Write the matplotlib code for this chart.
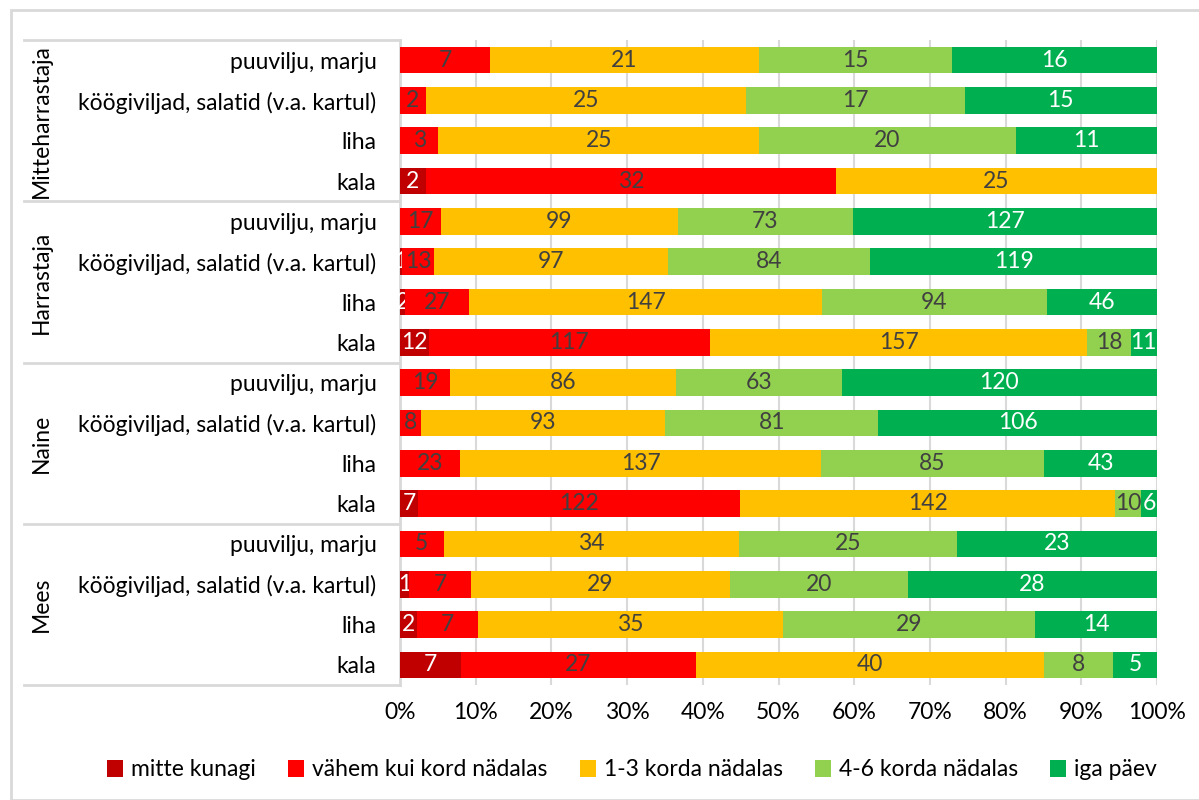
import numpy as np
import matplotlib.pyplot as plt
from matplotlib.lines import Line2D
from matplotlib.patches import Rectangle
import matplotlib.transforms as mtransforms

plt.rcParams['font.family'] = ['Lato', 'DejaVu Sans']

groups = ['Mitteharrastaja', 'Harrastaja', 'Naine', 'Mees']
items = ['puuvilju, marju', 'köögiviljad, salatid (v.a. kartul)', 'liha', 'kala']
series = ['mitte kunagi', 'vähem kui kord nädalas', '1-3 korda nädalas',
          '4-6 korda nädalas', 'iga päev']
colors = ['#C00000', '#FF0000', '#FFC000', '#92D050', '#00B050']
label_colors = ['white', '#404040', '#404040', '#404040', 'white']

# counts per row (group x item), columns follow `series`
mitte_kunagi = [0, 0, 0, 2,   0, 1, 2, 12,   0, 0, 0, 7,   0, 1, 2, 7]
vahem = [7, 2, 3, 32,   17, 13, 27, 117,   19, 8, 23, 122,   5, 7, 7, 27]
korda_1_3 = [21, 25, 25, 25,   99, 97, 147, 157,   86, 93, 137, 142,   34, 29, 35, 40]
korda_4_6 = [15, 17, 20, 0,   73, 84, 94, 18,   63, 81, 85, 10,   25, 20, 29, 8]
iga_paev = [16, 15, 11, 0,   127, 119, 46, 11,   120, 106, 43, 6,   23, 28, 14, 5]

counts = np.array([mitte_kunagi, vahem, korda_1_3, korda_4_6, iga_paev], dtype=float)
shares = counts / counts.sum(axis=0)

fs = 16.5

fig = plt.figure(figsize=(11.99, 8), dpi=100)
ax = fig.add_axes([400 / 1199, 1 - 685 / 800, 757 / 1199, 645 / 800])

y = np.arange(counts.shape[1])
left = np.zeros(len(y))
for i, name in enumerate(series):
    bars = ax.barh(y, shares[i], left=left, height=0.66, color=colors[i],
                   label=name, zorder=3)
    labels = [f'{int(v)}' if v > 0 else '' for v in counts[i]]
    ax.bar_label(bars, labels=labels, label_type='center', color=label_colors[i],
                 fontsize=fs)
    left += shares[i]

ax.set_ylim(len(y) - 0.5, -0.5)
ax.set_xlim(0, 1)
ax.set_xticks(np.arange(0, 1.01, 0.1))
ax.set_xticklabels([f'{int(round(t * 100))}%' for t in np.arange(0, 1.01, 0.1)])
ax.set_yticks(y)
ax.set_yticklabels(items * len(groups))
ax.tick_params(axis='both', length=0, labelsize=fs, colors='black')
ax.tick_params(axis='y', pad=17)
ax.tick_params(axis='x', pad=12)
ax.grid(axis='x', color='#D9D9D9', linewidth=1.5, zorder=0)
for side in ['top', 'right', 'bottom']:
    ax.spines[side].set_visible(False)
ax.spines['left'].set_color('#D9D9D9')
ax.spines['left'].set_linewidth(2)

# group separators and group names left of the item labels
trans = mtransforms.blended_transform_factory(fig.transFigure, ax.transData)
for k in range(len(groups) + 1):
    yy = k * 4 - 0.5
    fig.add_artist(Line2D([24 / 1199, 400 / 1199], [yy, yy], transform=trans,
                          color='#D9D9D9', linewidth=2))
for k, g in enumerate(groups):
    fig.text(41 / 1199, k * 4 + 1.5, g, transform=trans, rotation=90,
             ha='center', va='center', fontsize=16.5)

# chart frame
fig.add_artist(Rectangle((11 / 1199, 0), 1.0, 1 - 10 / 800, transform=fig.transFigure,
                         fill=False, edgecolor='#D9D9D9', linewidth=2))

ax.legend(loc='center', bbox_to_anchor=(632 / 1199, 1 - 770 / 800),
          bbox_transform=fig.transFigure, ncol=5, frameon=False, fontsize=fs,
          handlelength=0.7, handleheight=0.7, handletextpad=0.35, columnspacing=1.4)

fig.savefig('out.png', dpi=100)
